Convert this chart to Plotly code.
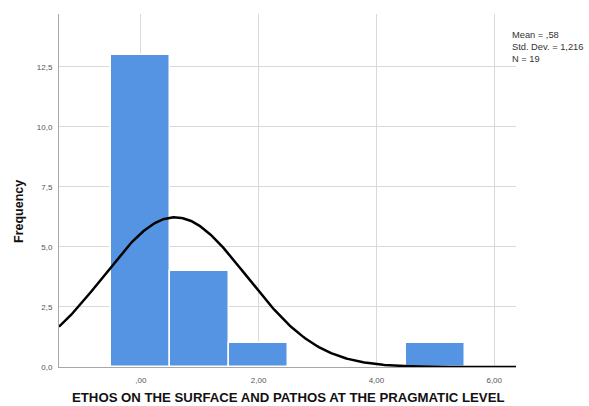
import numpy as np
import plotly.graph_objects as go

bin_centers = [0, 1, 2, 5]
counts = [13, 4, 1, 1]
mean_val = 0.58
std_val = 1.216
n_val = 19
x_ticks = [0, 2, 4, 6]
x_tick_labels = [",00", "2,00", "4,00", "6,00"]
y_ticks = [0, 2.5, 5, 7.5, 10, 12.5]
y_tick_labels = ["0,0", "2,5", "5,0", "7,5", "10,0", "12,5"]

x_range = [-1.39, 6.37]
y_range = [0, 14.7]

xs = np.linspace(x_range[0], x_range[1], 300)
ys = n_val * 1.0 / (std_val * np.sqrt(2 * np.pi)) * np.exp(-0.5 * ((xs - mean_val) / std_val) ** 2)

fig = go.Figure()
fig.add_trace(go.Bar(
    x=bin_centers, y=counts, width=1,
    marker=dict(color="#5593E3", line=dict(color="white", width=1.5)),
    showlegend=False,
))
fig.add_trace(go.Scatter(
    x=xs, y=ys, mode="lines",
    line=dict(color="black", width=2.5),
    showlegend=False, cliponaxis=False,
))

L, R, T, B = 59, 73, 14, 39
W, H = 589, 406
fig.update_layout(
    width=W, height=H,
    margin=dict(l=L, r=R, t=T, b=B, autoexpand=False),
    plot_bgcolor="white", paper_bgcolor="white",
    font=dict(family="Liberation Sans, Arial, sans-serif", color="#444"),
    bargap=0,
    xaxis=dict(
        range=x_range, tickvals=x_ticks, ticktext=x_tick_labels,
        showgrid=True, gridcolor="#d9d9d9", gridwidth=1,
        showline=True, linecolor="#a8a8a8", linewidth=1,
        ticks="outside", ticklen=5, tickcolor="rgba(0,0,0,0)", zeroline=False, automargin=False,
        tickfont=dict(size=8, color="#555"),
    ),
    yaxis=dict(
        range=y_range, tickvals=y_ticks, ticktext=y_tick_labels,
        showgrid=True, gridcolor="#d9d9d9", gridwidth=1,
        showline=True, linecolor="#a8a8a8", linewidth=1,
        ticks="outside", ticklen=4, tickcolor="rgba(0,0,0,0)", zeroline=False, automargin=False,
        tickfont=dict(size=8, color="#555"),
    ),
)

pw = W - L - R
ph = H - T - B
fig.add_annotation(
    xref="paper", yref="paper", x=(288 - L) / pw, y=-(397.5 - (H - B)) / ph,
    xanchor="center", yanchor="middle", showarrow=False,
    text="<b>ETHOS ON THE SURFACE AND PATHOS AT THE PRAGMATIC LEVEL</b>",
    font=dict(size=13.2, color="#111"),
)
fig.add_annotation(
    xref="paper", yref="paper", x=-(L - 19) / pw, y=(H - B - 212) / ph,
    xanchor="center", yanchor="middle", showarrow=False, textangle=-90,
    text="<b>Frequency</b>",
    font=dict(size=12.5, color="#111"),
)
fig.add_annotation(
    xref="paper", yref="paper", x=(510 - L) / pw, y=(H - B - 28) / ph,
    xanchor="left", yanchor="top", align="left", showarrow=False,
    text=f"Mean = ,{int(round(mean_val*100)):02d}<br>Std. Dev. = {str(std_val).replace('.', ',')}<br>N = {n_val}",
    font=dict(size=9.3, color="#333"),
)

fig.write_html("out.html")
